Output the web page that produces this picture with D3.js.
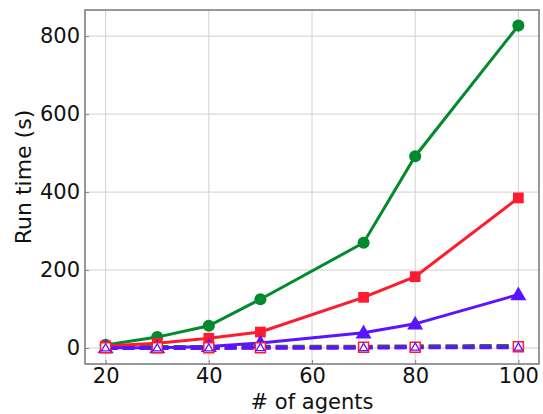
<!DOCTYPE html>
<html><head><meta charset="utf-8">
<script src="https://cdn.jsdelivr.net/npm/d3@7"></script>
<style>body{margin:0;background:#fff}svg{display:block}text{font-family:"DejaVu Sans",sans-serif}</style>
</head><body><svg id="c" width="543" height="414"></svg>
<script>
const agents = [20, 30, 40, 50, 70, 80, 100];
const greenSolid = [8, 28, 57, 125, 270, 492, 827];
const redSolid = [5, 12, 25, 41, 130, 183, 385];
const blueSolid = [1, 1, 4, 13, 39, 62, 137];
const greenDashed = [3, 3, 3, 4, 4, 5, 6];
const redDashed = [1, 1, 1, 1, 2, 2, 3];
const blueDashed = [0, 0, 0, 1, 1, 2, 2];
const xTicks = [20, 40, 60, 80, 100];
const yTicks = [0, 200, 400, 600, 800];

const svg = d3.select("#c");
const L = 85, R = 539, T = 10, B = 364;
const x = d3.scaleLinear().domain([16, 104]).range([L, R]);
const y = d3.scaleLinear().domain([-41, 867]).range([B, T]);

const g = svg.append("g");
g.selectAll(".gx").data(xTicks).join("line")
  .attr("x1", d => x(d)).attr("x2", d => x(d)).attr("y1", T).attr("y2", B)
  .attr("stroke", "#d0d0d0").attr("stroke-width", 1);
g.selectAll(".gy").data(yTicks).join("line")
  .attr("y1", d => y(d)).attr("y2", d => y(d)).attr("x1", L).attr("x2", R)
  .attr("stroke", "#d0d0d0").attr("stroke-width", 1);

const xa = svg.append("g").attr("transform", `translate(0,${B})`)
  .call(d3.axisBottom(x).tickValues(xTicks).tickSize(-4).tickPadding(4));
const ya = svg.append("g").attr("transform", `translate(${L},0)`)
  .call(d3.axisLeft(y).tickValues(yTicks).tickSize(-4).tickPadding(5));
[xa, ya].forEach(a => {
  a.select(".domain").remove();
  a.selectAll("line").attr("stroke", "#888");
  a.selectAll("text").attr("font-size", 21).attr("fill", "#111").attr("font-family", "DejaVu Sans");
});

const line = d3.line().x((d, i) => x(agents[i])).y(d => y(d));
const series = [
  {v: greenDashed, c: "#038a2c", m: "circle", dash: "12,5", w: 3.5, fill: false},
  {v: redDashed, c: "#ff1a2e", m: "square", dash: "12,5", w: 3.5, fill: false},
  {v: blueDashed, c: "#5a14ff", m: "triangle", dash: "12,5", w: 4, fill: false},
  {v: greenSolid, c: "#038a2c", m: "circle", dash: null, w: 3, fill: true},
  {v: redSolid, c: "#ff1a2e", m: "square", dash: null, w: 3, fill: true},
  {v: blueSolid, c: "#5a14ff", m: "triangle", dash: null, w: 3, fill: true},
];
const plot = svg.append("g");
series.forEach(s => {
  plot.append("path").datum(s.v).attr("d", line).attr("fill", "none")
    .attr("stroke", s.c).attr("stroke-width", s.w).attr("stroke-dasharray", s.dash);
});
function sym(m) { return m === "circle" ? d3.symbolCircle : m === "square" ? d3.symbolSquare : d3.symbolTriangle; }
series.forEach(s => {
  if (!s.fill) return;
  plot.selectAll(null).data(s.v).join("path")
    .attr("transform", (d, i) => `translate(${x(agents[i])},${y(d) + (s.m === "triangle" ? 1 : 0)})`)
    .attr("d", d3.symbol().type(sym(s.m)).size(s.m === "triangle" ? 110 : 115))
    .attr("fill", s.c);
});
plot.selectAll(null).data(redDashed).join("path")
  .attr("transform", (d, i) => `translate(${x(agents[i])},${y(d)})`)
  .attr("d", d3.symbol().type(d3.symbolSquare).size(100))
  .attr("fill", "#fff").attr("stroke", "#ff1a2e").attr("stroke-width", 1.5);
plot.selectAll(null).data(blueDashed).join("path")
  .attr("transform", (d, i) => `translate(${x(agents[i])},${y(d) + 0.5})`)
  .attr("d", d3.symbol().type(d3.symbolTriangle).size(30))
  .attr("fill", "#fff").attr("stroke", "#5a14ff").attr("stroke-width", 1.3);

svg.append("rect").attr("x", L).attr("y", T).attr("width", R - L).attr("height", B - T)
  .attr("fill", "none").attr("stroke", "#777").attr("stroke-width", 1.5);

svg.append("text").attr("x", (L + R) / 2).attr("y", 409).attr("text-anchor", "middle")
  .attr("font-size", 21).attr("fill", "#111").text("# of agents");
svg.append("text").attr("transform", `translate(31,${(T + B) / 2 - 10}) rotate(-90)`)
  .attr("text-anchor", "middle").attr("font-size", 22).attr("fill", "#111").text("Run time (s)");
</script></body></html>
